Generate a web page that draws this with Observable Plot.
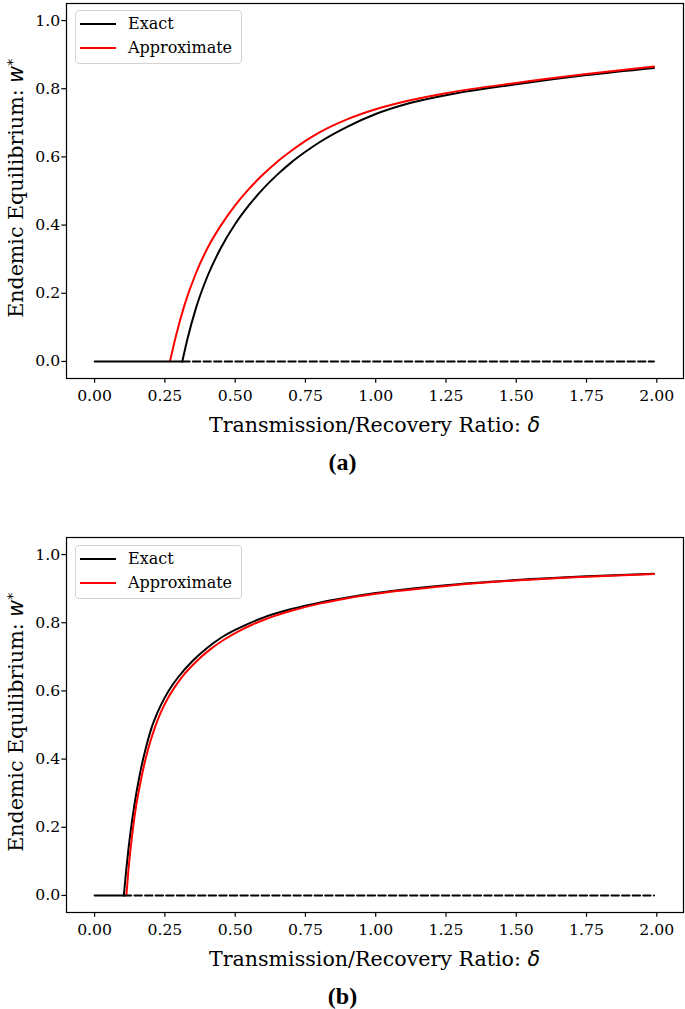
<!DOCTYPE html>
<html><head><meta charset="utf-8">
<script src="https://cdn.jsdelivr.net/npm/d3@7"></script>
<script src="https://cdn.jsdelivr.net/npm/@observablehq/plot@0.6"></script>
<style>
body{margin:0;background:#fff;}
#page{position:relative;width:685px;height:1009px;overflow:hidden;font-family:"DejaVu Serif";color:#000;background:#fff}
.panel{position:absolute;left:0;width:685px;height:500px}
.panel svg{position:absolute;left:0;top:0}
.xlab{position:absolute;left:66px;width:617px;text-align:center;font-size:20.6px;line-height:20.6px;white-space:nowrap}
.ylab{position:absolute;width:420px;height:20.6px;line-height:20.6px;font-size:20.6px;text-align:center;transform:rotate(-90deg);white-space:nowrap}
.m{font-family:"DejaVu Sans";font-style:italic}
.cap{position:absolute;left:0;width:685px;text-align:center;font-family:"Liberation Serif";font-weight:bold;font-size:24px;line-height:24px}
.legend{position:absolute;left:75px;width:165px;height:52px;border:1px solid #d3d3d3;border-radius:4px;background:rgba(255,255,255,0.8)}
.legend .row{position:absolute;left:0;width:165px;height:16px;line-height:16px;font-size:16px}
.legend .sw{position:absolute;left:4px;width:36px;height:2px;top:7px}
.legend .tx{position:absolute;left:52px;top:0;white-space:nowrap}
</style>
</head>
<body>
<div id="page"></div>
<script>
// ---- data ----
const xTicks = [0, 0.25, 0.5, 0.75, 1.0, 1.25, 1.5, 1.75, 2.0];
const yTicks = [0, 0.2, 0.4, 0.6, 0.8, 1.0];
const deltaEnd = 1.99;

// Panel (a)
const exactDeltaA = [0.312, 0.33, 0.36, 0.40, 0.45, 0.50, 0.55, 0.60, 0.65, 0.70, 0.75, 0.80, 0.90, 1.00, 1.10, 1.25, 1.50, 1.75, 1.99];
const exactWA     = [0,     0.065, 0.155, 0.247, 0.334, 0.403, 0.459, 0.507, 0.548, 0.584, 0.615, 0.643, 0.689, 0.726, 0.753, 0.781, 0.813, 0.840, 0.861];
const approxDeltaA = [0.268, 0.29, 0.32, 0.36, 0.40, 0.45, 0.50, 0.55, 0.60, 0.65, 0.70, 0.75, 0.80, 0.90, 1.00, 1.10, 1.25, 1.50, 1.75, 1.99];
const approxWA     = [0,     0.077, 0.166, 0.258, 0.330, 0.400, 0.458, 0.507, 0.549, 0.586, 0.618, 0.647, 0.672, 0.711, 0.740, 0.762, 0.787, 0.817, 0.843, 0.865];

// Panel (b)
const exactDeltaB = [0.104, 0.112, 0.12, 0.13, 0.14, 0.15, 0.165, 0.18, 0.20, 0.225, 0.25, 0.275, 0.30, 0.35, 0.40, 0.45, 0.50, 0.55, 0.60, 0.70, 0.80, 0.90, 1.00, 1.25, 1.50, 1.75, 1.99];
const exactWB     = [0,     0.071, 0.133, 0.200, 0.257, 0.307, 0.372, 0.425, 0.485, 0.539, 0.581, 0.615, 0.643, 0.689, 0.726, 0.756, 0.779, 0.798, 0.815, 0.840, 0.859, 0.874, 0.887, 0.910, 0.925, 0.936, 0.944];
const approxDeltaB = [0.113, 0.12, 0.128, 0.138, 0.148, 0.158, 0.173, 0.19, 0.21, 0.235, 0.26, 0.285, 0.31, 0.36, 0.41, 0.46, 0.51, 0.56, 0.61, 0.70, 0.80, 0.90, 1.00, 1.25, 1.50, 1.75, 1.99];
const approxWB     = [0,     0.071, 0.137, 0.207, 0.264, 0.310, 0.371, 0.428, 0.482, 0.536, 0.578, 0.611, 0.640, 0.685, 0.721, 0.750, 0.774, 0.794, 0.811, 0.835, 0.856, 0.872, 0.885, 0.908, 0.924, 0.935, 0.943];

const seriesNames = ["Exact", "Approximate"];
const seriesColors = ["black", "red"];
const captions = ["(a)", "(b)"];

function table(ds, ws) { return ds.map((d, i) => ({d, w: ws[i]})); }

function makePlot(exact, approx) {
  const thr = exact[0].d;
  const zeroSolid = [{d: 0, w: 0}, {d: thr, w: 0}];
  const zeroDashed = [{d: thr, w: 0}, {d: deltaEnd, w: 0}];
  return Plot.plot({
    width: 685, height: 410,
    marginTop: 3, marginBottom: 32, marginLeft: 66, marginRight: 2,
    x: {domain: [-0.1, 2.095]},
    y: {domain: [-0.05, 1.05]},
    style: {fontFamily: "DejaVu Serif", fontSize: "15.7px", color: "#000", background: "transparent", overflow: "visible"},
    marks: [
      Plot.axisX({ticks: xTicks, tickFormat: d3.format(".2f"), tickSize: 4.7, tickPadding: 6.6, strokeWidth: 1.2, label: null}),
      Plot.axisY({ticks: yTicks, tickFormat: d3.format(".1f"), tickSize: 4.7, tickPadding: 1.5, strokeWidth: 1.2, label: null}),
      Plot.line(exact, {x: "d", y: "w", stroke: seriesColors[0], strokeWidth: 2, curve: "monotone-x"}),
      Plot.line(approx, {x: "d", y: "w", stroke: seriesColors[1], strokeWidth: 2, curve: "monotone-x"}),
      Plot.line(zeroSolid, {x: "d", y: "w", stroke: "black", strokeWidth: 2}),
      Plot.line(zeroDashed, {x: "d", y: "w", stroke: "black", strokeWidth: 2, strokeDasharray: "7.4,3.2"}),
      Plot.frame({stroke: "black", strokeWidth: 1.2})
    ]
  });
}

const page = document.getElementById("page");
const panels = [
  {top: 0, legTop: 10, exact: table(exactDeltaA, exactWA), approx: table(approxDeltaA, approxWA)},
  {top: 534, legTop: 11, exact: table(exactDeltaB, exactWB), approx: table(approxDeltaB, approxWB)}
];

panels.forEach((p, k) => {
  const div = document.createElement("div");
  div.className = "panel";
  div.style.top = p.top + "px";
  div.appendChild(makePlot(p.exact, p.approx));

  const yl = document.createElement("div");
  yl.className = "ylab";
  yl.style.left = (11.5 - 210) + "px";
  yl.style.top = (188 - 10.3) + "px";
  yl.innerHTML = 'Endemic Equilibrium: <span class="m">w</span><sup style="font-family:\'DejaVu Sans\';font-size:14.5px;vertical-align:6px">*</sup>';
  div.appendChild(yl);

  const xl = document.createElement("div");
  xl.className = "xlab";
  xl.style.top = (425.3 - 9.9) + "px";
  xl.innerHTML = 'Transmission/Recovery Ratio: <span class="m">δ</span>';
  div.appendChild(xl);

  const cap = document.createElement("div");
  cap.className = "cap";
  cap.style.top = (462 - 12) + "px";
  cap.textContent = captions[k];
  div.appendChild(cap);

  const leg = document.createElement("div");
  leg.className = "legend";
  leg.style.top = p.legTop + "px";
  seriesNames.forEach((name, i) => {
    const row = document.createElement("div");
    row.className = "row";
    row.style.top = (5.3 + i * 23.7) + "px";
    const sw = document.createElement("div");
    sw.className = "sw";
    sw.style.background = seriesColors[i];
    const tx = document.createElement("div");
    tx.className = "tx";
    tx.textContent = name;
    row.appendChild(sw); row.appendChild(tx);
    leg.appendChild(row);
  });
  div.appendChild(leg);

  page.appendChild(div);
});
</script>
</body></html>
